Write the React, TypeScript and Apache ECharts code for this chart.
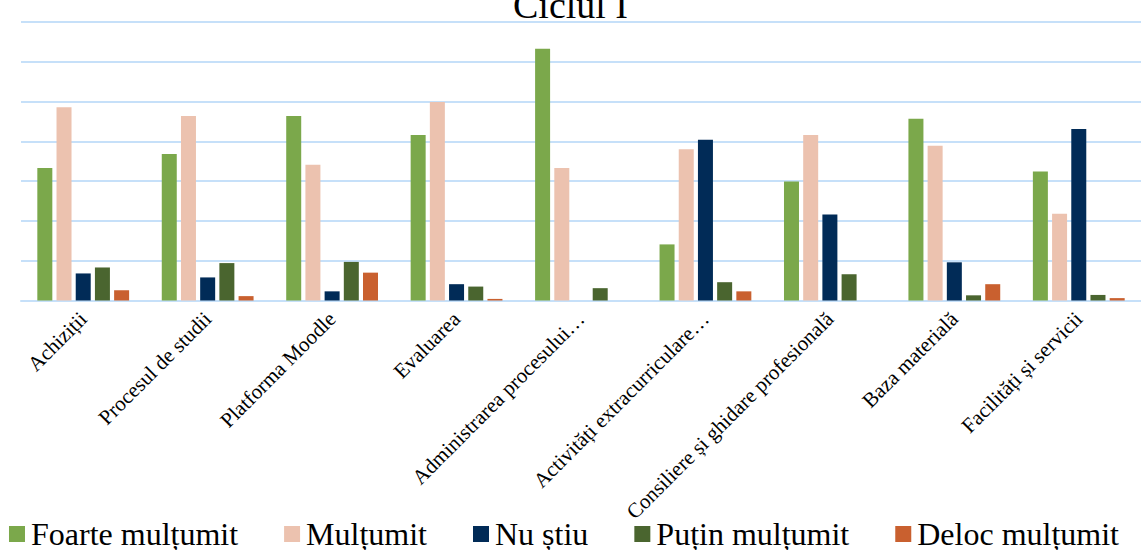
import React, { useEffect, useRef } from "react";
import * as echarts from "echarts";

const categories = [
  "Achiziții",
  "Procesul de studii",
  "Platforma Moodle",
  "Evaluarea",
  "Administrarea procesului…",
  "Activități extracurriculare…",
  "Consiliere și ghidare profesională",
  "Baza materială",
  "Facilități și servicii",
];

const foarteMultumit = [33.3, 36.8, 46.4, 41.6, 63.3, 14.1, 29.9, 45.7, 32.4];
const multumit = [48.6, 46.4, 34.1, 49.9, 33.3, 38.0, 41.6, 38.9, 21.8];
const nuStiu = [6.8, 5.8, 2.3, 4.1, 0, 40.4, 21.6, 9.6, 43.1];
const putinMultumit = [8.3, 9.4, 9.7, 3.5, 3.1, 4.6, 6.6, 1.3, 1.4];
const delocMultumit = [2.6, 1.1, 7.0, 0.4, 0, 2.3, 0, 4.1, 0.6];

const seriesNames = ["Foarte mulțumit", "Mulțumit", "Nu știu", "Puțin mulțumit", "Deloc mulțumit"];
const seriesColors = ["#7BA84B", "#ECC2AF", "#012B57", "#4A652F", "#C9602F"];
const seriesData = [foarteMultumit, multumit, nuStiu, putinMultumit, delocMultumit];

const FONT = "Liberation Serif";
const LEGEND_FONT_SIZE = 32;

function measure(text: string, size: number): number {
  const c = document.createElement("canvas").getContext("2d");
  if (!c) return text.length * size * 0.45;
  c.font = `${size}px "${FONT}", serif`;
  return c.measureText(text).width;
}

export default function App() {
  const ref = useRef<HTMLDivElement>(null);
  useEffect(() => {
    if (!ref.current) return;
    const chart = echarts.init(ref.current, null, { renderer: "svg" });

    // legend drawn as rects + texts, laid out from measured text widths
    const iconSize = 16;
    const iconTextGap = 6;
    const itemGap = 46;
    const widths = seriesNames.map((n) => measure(n, LEGEND_FONT_SIZE));
    const total =
      widths.reduce((a, b) => a + b, 0) +
      seriesNames.length * (iconSize + iconTextGap) +
      itemGap * (seriesNames.length - 1);
    let x = 564 - total / 2;
    const legendElems: any[] = [];
    seriesNames.forEach((name, i) => {
      legendElems.push({
        type: "rect",
        shape: { x, y: 526, width: iconSize, height: iconSize },
        style: { fill: seriesColors[i] },
      });
      legendElems.push({
        type: "text",
        x: x + iconSize + iconTextGap,
        y: 534,
        style: {
          text: name,
          font: `normal normal ${LEGEND_FONT_SIZE}px "${FONT}"`,
          fill: "#000",
          verticalAlign: "middle",
          align: "left",
        },
      });
      x += iconSize + iconTextGap + widths[i] + itemGap;
    });

    chart.setOption({
      animation: false,
      backgroundColor: "#ffffff",
      textStyle: { fontFamily: FONT },
      title: {
        text: "Ciclul I",
        left: "center",
        top: -19,
        textStyle: { fontFamily: FONT, fontSize: 38, fontWeight: "normal", color: "#000" },
      },
      legend: { show: false, data: seriesNames },
      graphic: legendElems,
      grid: { left: 21, top: 22, width: 1129, height: 278.5, containLabel: false },
      xAxis: {
        type: "category",
        data: categories,
        axisLine: { show: true, lineStyle: { color: "#C6E0F9", width: 2 } },
        axisTick: { show: false },
        axisLabel: {
          rotate: 45,
          interval: 0,
          margin: 15,
          fontFamily: FONT,
          fontSize: 21,
          color: "#000",
        },
      },
      yAxis: {
        type: "value",
        min: 0,
        max: 70,
        interval: 10,
        axisLabel: { show: false },
        axisLine: { show: false },
        axisTick: { show: false },
        splitLine: { show: true, lineStyle: { color: "#C6E0F9", width: 2 } },
      },
      series: seriesNames.map((name, i) => ({
        name,
        type: "bar",
        data: seriesData[i],
        barWidth: 15,
        barGap: "28%",
        itemStyle: { color: seriesColors[i] },
      })),
    });
    return () => chart.dispose();
  }, []);
  return (
    <div
      ref={ref}
      style={{ position: "fixed", left: 0, top: 0, width: 1141, height: 550, background: "#fff" }}
    />
  );
}
